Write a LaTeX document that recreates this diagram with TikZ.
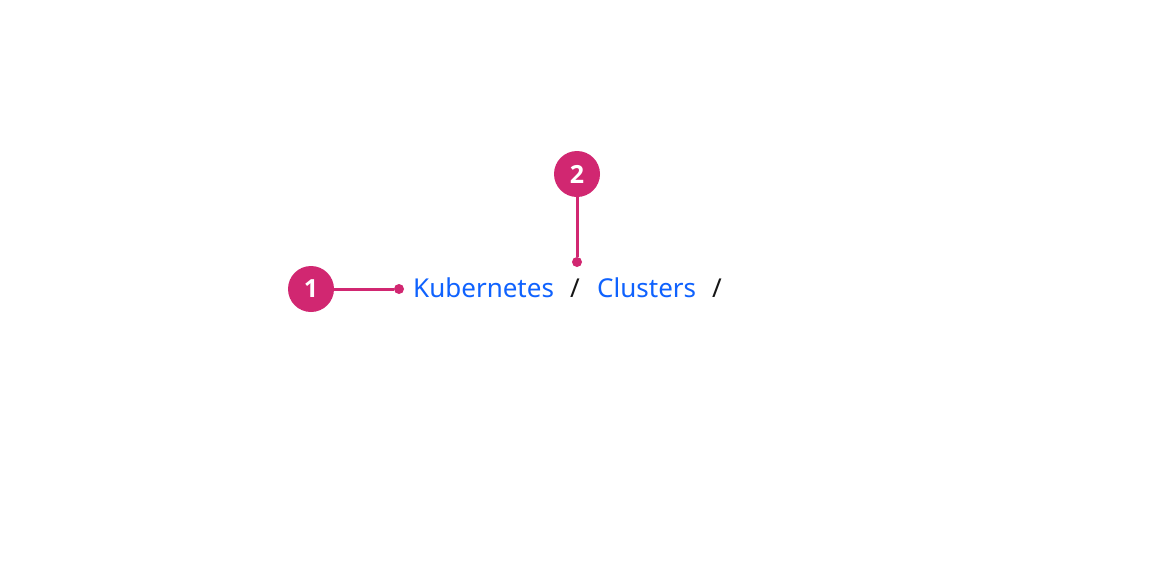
\documentclass[tikz,border=0pt]{standalone}
\usepackage{fontspec}
\setmainfont{Noto Sans}
\newfontfamily\markerfont{Open Sans}
\usepackage{tikz}
\usetikzlibrary{positioning}
\definecolor{marker}{HTML}{D12771}
\definecolor{crumblink}{HTML}{0F62FE}
\definecolor{crumbsep}{HTML}{161616}
\tikzset{%
	every marker/.style={
		circle,
		fill=marker,
		minimum size=46pt,
		inner sep=0pt,
		text=white,
		font=\markerfont\fontsize{25}{30}\selectfont\bfseries
	},
	marker dot/.style={
		circle,
		fill=marker,
		minimum size=10pt,
		inner sep=0pt
	},
	marker line/.style={
		draw=marker,
		line width=3pt
	},
	crumb/.style={
		inner sep=0pt,
		anchor=base west,
		text=crumblink,
		font=\fontsize{26}{30}\selectfont
	},
	crumb sep/.style={
		inner sep=0pt,
		anchor=base,
		text=crumbsep,
		font=\fontsize{26}{30}\selectfont
	},
}
\begin{document}
\begin{tikzpicture}[x=1pt,y=-1pt]
			\useasboundingbox[fill=white] (0,0) rectangle (1152,576);
			
			% Draw the breadcrumb
			\node[crumb] (kube) at (413,297) {Kubernetes};
			\node[crumb sep] (sepa) at (575,297) {/};
			\node[crumb] (clus) at (597,297) {Clusters};
			\node[crumb sep] (sepb) at (717,297) {/};
			
			% Draw the first marker
			\node[every marker] (mone) at (311,289) {1};
			\node[marker dot] (done) at (399,289) {};
			\draw[marker line] (mone) -- (done);
			
			% Draw the second marker
			\node[every marker] (mtwo) at (577,174) {2};
			\node[marker dot] (dtwo) at (577,262) {};
			\draw[marker line] (mtwo) -- (dtwo);
		\end{tikzpicture}
\end{document}
